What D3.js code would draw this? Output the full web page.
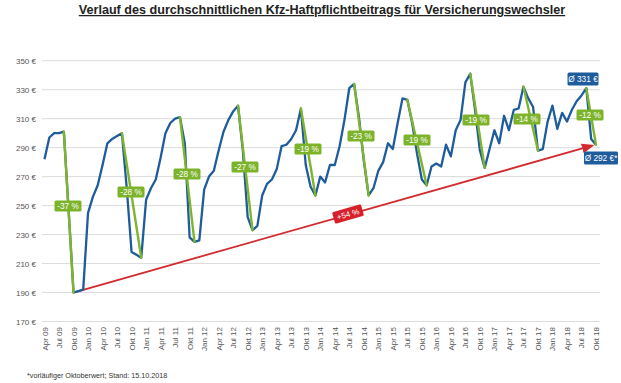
<!DOCTYPE html>
<html><head><meta charset="utf-8">
<script src="https://cdn.jsdelivr.net/npm/d3@7"></script>
<style>body{margin:0;background:#fff}svg{display:block;font-family:"Liberation Sans",Arial,sans-serif}</style>
</head><body><svg id="c" width="621" height="383"></svg>
<script>
const title = "Verlauf des durchschnittlichen Kfz-Haftpflichtbeitrags für Versicherungswechsler";
const footnote = "*vorläufiger Oktoberwert; Stand: 15.10.2018";
const startYear = 2009, startMonth = 3; // April 2009
const monthNames = ["Jan","Feb","Mär","Apr","Mai","Jun","Jul","Aug","Sep","Okt","Nov","Dez"];
const values = [
  282,297,300,300,301,246,190,191,192,
  245,256,264,278,293,296,298,300,262,218,216,214,
  254,262,268,283,300,307,310,311,293,228,225,226,
  261,270,274,288,301,309,315,319,288,242,233,236,
  257,265,268,275,291,292,296,302,317,278,263,257,
  270,266,278,278,291,309,331,334,311,281,257,262,
  274,280,293,289,307,324,323,307,286,268,264,277,
  279,277,292,284,302,309,335,341,316,288,276,289,
  302,293,312,302,316,317,332,324,318,288,289,308,
  319,303,314,308,316,322,326,331,296,292
];
const yTicks = [170,190,210,230,250,270,290,310,330,350];
// drops: [peakIndex, troughIndex, label]
const drops = [[4,6,"-37 %"],[16,20,"-28 %"],[28,31,"-28 %"],[40,43,"-27 %"],[53,56,"-19 %"],[64,67,"-23 %"],[75,79,"-19 %"],[88,91,"-19 %"],[99,102,"-14 %"],[112,114,"-12 %"]];
const dropLabelPos = [[68,206],[131,192],[187,174],[245,167],[308,149],[361,136],[417,140],[476,120],[527,119],[590,115]];
const trend = [6,114,"+54 %"];
const callouts = [[111,"Ø 331 €",583,79],[114,"Ø 292 €*",601,158]];

const labelOf = i => { const m=(startMonth+i)%12, y=startYear+Math.floor((startMonth+i)/12); return monthNames[m]+" "+String(y%100).padStart(2,"0"); };

const svg = d3.select("#c");
const x = d3.scaleLinear().domain([0, values.length-1]).range([44.5, 596]);
const y = d3.scaleLinear().domain([170,350]).range([321.5, 60.7]);

svg.append("text").attr("x",322).attr("y",14).attr("text-anchor","middle")
  .attr("font-size",12.6).attr("font-weight","bold").attr("fill","#222")
  .attr("text-decoration","underline").text(title);

// grid
svg.append("g").selectAll("line").data(yTicks).join("line")
  .attr("x1",42).attr("x2",600).attr("y1",d=>y(d)).attr("y2",d=>y(d))
  .attr("stroke","#dcdcdc").attr("stroke-width",1);
svg.append("g").selectAll("text").data(yTicks).join("text")
  .attr("x",36).attr("y",d=>y(d)+3).attr("text-anchor","end")
  .attr("font-size",8).attr("fill","#555").text(d=>d+" €");

// x labels every 3 months
const xIdx = d3.range(0, values.length, 3);
svg.append("g").selectAll("text").data(xIdx).join("text")
  .attr("transform",d=>`translate(${x(d)+3},327) rotate(-90)`)
  .attr("text-anchor","end").attr("font-size",8).attr("fill","#555").text(labelOf);

// trend arrow
svg.append("defs").append("marker").attr("id","ar").attr("viewBox","0 0 10 10")
  .attr("refX",8).attr("refY",5).attr("markerWidth",7).attr("markerHeight",7).attr("orient","auto")
  .append("path").attr("d","M0,1L10,5L0,9Z").attr("fill","#d22a2f");
const tx1=x(trend[0]), ty1=y(values[trend[0]]), tx2=x(trend[1])-4, ty2=y(values[trend[1]])+1;
svg.append("line").attr("x1",tx1).attr("y1",ty1).attr("x2",tx2).attr("y2",ty2)
  .attr("stroke","#d22a2f").attr("stroke-width",1.8).attr("marker-end","url(#ar)");

// main line
svg.append("path").datum(values).attr("fill","none").attr("stroke","#1f5c9c").attr("stroke-width",2.3)
  .attr("stroke-linejoin","round")
  .attr("d", d3.line().x((d,i)=>x(i)).y(d=>y(d)));

// drop lines
svg.append("g").selectAll("line").data(drops).join("line")
  .attr("x1",d=>x(d[0])).attr("y1",d=>y(values[d[0]]))
  .attr("x2",d=>x(d[1])).attr("y2",d=>y(values[d[1]]))
  .attr("stroke","#7fb52c").attr("stroke-width",2.4).attr("stroke-linecap","round");

// drop labels
const dl = svg.append("g").selectAll("g").data(drops).join("g")
  .attr("transform",(d,i)=>`translate(${dropLabelPos[i][0]},${dropLabelPos[i][1]})`);
dl.append("rect").attr("x",-13.5).attr("y",-5.5).attr("width",27).attr("height",11).attr("rx",1.5).attr("fill","#7cb32a");
dl.append("text").attr("text-anchor","middle").attr("y",3).attr("font-size",8.3).attr("fill","#fff").text(d=>d[2]);

// trend label
const ang = Math.atan2(ty2-ty1, tx2-tx1)*180/Math.PI;
const tl = svg.append("g").attr("transform",`translate(348,214) rotate(${ang})`);
tl.append("rect").attr("x",-15).attr("y",-6).attr("width",30).attr("height",12).attr("rx",1.5).attr("fill","#d7202a");
tl.append("text").attr("text-anchor","middle").attr("y",3).attr("font-size",8).attr("fill","#fff").text(trend[2]);

// callouts
const co = svg.append("g").selectAll("g").data(callouts).join("g")
  .attr("transform",d=>`translate(${d[2]},${d[3]})`);
co.append("rect").attr("x",d=>d[1].length>7?-17:-15.5).attr("y",-6.5)
  .attr("width",d=>d[1].length>7?34:31).attr("height",13).attr("rx",1.5).attr("fill","#1f5c9c");
co.append("text").attr("text-anchor","middle").attr("y",3).attr("font-size",8.3).attr("fill","#fff").text(d=>d[1]);

svg.append("text").attr("x",27).attr("y",378).attr("font-size",7.2).attr("fill","#333").text(footnote);
</script></body></html>
